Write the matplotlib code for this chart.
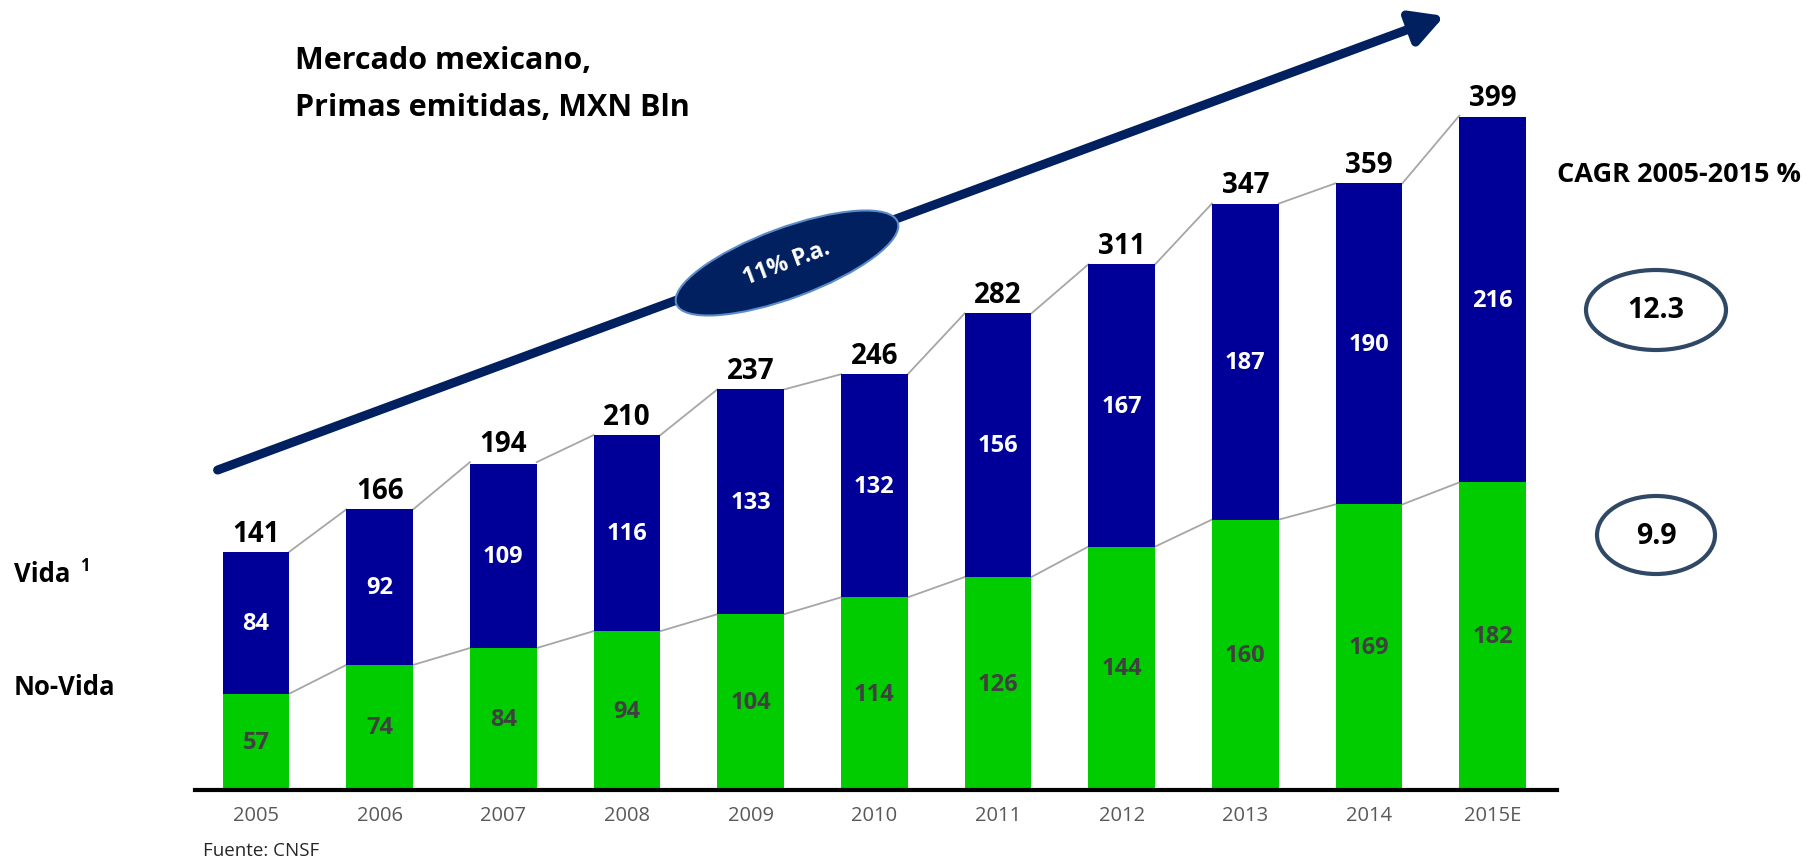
import numpy as np
import matplotlib
matplotlib.use("Agg")
import matplotlib.pyplot as plt
from matplotlib.patches import Ellipse, FancyArrowPatch

plt.rcParams['font.family'] = ['Open Sans', 'DejaVu Sans']

years = ["2005", "2006", "2007", "2008", "2009", "2010", "2011", "2012", "2013", "2014", "2015E"]
no_vida = [57, 74, 84, 94, 104, 114, 126, 144, 160, 169, 182]
vida = [84, 92, 109, 116, 133, 132, 156, 167, 187, 190, 216]
totals = [141, 166, 194, 210, 237, 246, 282, 311, 347, 359, 399]
cagr_vida = "12.3"
cagr_novida = "9.9"

blue = "#000099"
green = "#00CC00"
navy = "#002060"

W, H = 1814, 862
fig = plt.figure(figsize=(W / 100, H / 100), dpi=100)


def px(x, y):
    # pixel from top-left -> figure fraction
    return x / W, 1 - y / H


ax = fig.add_axes([195 / W, 71 / H, 1362 / W, 676 / H])
x = np.arange(len(years))
bw = 0.54
ax.bar(x, no_vida, bw, color=green, zorder=2)
ax.bar(x, vida, bw, bottom=no_vida, color=blue, zorder=2)

# connector lines between bars
for i in range(len(years) - 1):
    for top in (no_vida, totals):
        ax.plot([x[i] + bw / 2, x[i + 1] - bw / 2], [top[i], top[i + 1]],
                color="#A6A6A6", lw=1.3, zorder=1)

for i in range(len(years)):
    ax.text(x[i], no_vida[i] / 2, str(no_vida[i]), ha="center", va="center",
            fontsize=17, fontweight="bold", color="#404040")
    ax.text(x[i], no_vida[i] + vida[i] / 2, str(vida[i]), ha="center", va="center",
            fontsize=17, fontweight="bold", color="white")
    ax.annotate(str(totals[i]), (x[i], totals[i]), xytext=(0, 3), textcoords="offset points",
                ha="center", va="bottom", fontsize=20, fontweight="bold", color="black")

ax.set_xlim(-0.493, 10.52)
ax.set_ylim(0, 400)
for s in ("top", "right", "left"):
    ax.spines[s].set_visible(False)
ax.spines["bottom"].set_linewidth(3)
ax.spines["bottom"].set_color("black")
ax.set_yticks([])
ax.set_xticks(x)
ax.set_xticklabels(years, fontsize=14.5, color="#595959")
ax.tick_params(axis="x", length=0, pad=11)

# title and side labels
fig.text(*px(295, 61), "Mercado mexicano,", fontsize=22, fontweight="bold", va="center")
fig.text(*px(295, 108), "Primas emitidas, MXN Bln", fontsize=22, fontweight="bold", va="center")
fig.text(*px(14, 575), "Vida", fontsize=18.5, fontweight="bold", va="center")
fig.text(*px(80, 566), "1", fontsize=12, fontweight="bold", va="center")
fig.text(*px(14, 688), "No-Vida", fontsize=18.5, fontweight="bold", va="center")
fig.text(*px(1557, 175), "CAGR 2005-2015 %", fontsize=19.5, fontweight="bold", va="center")
fig.text(*px(203, 851), "Fuente: CNSF", fontsize=13.5, color="#262626", va="center")

# growth arrow
arr = FancyArrowPatch(px(215, 472), px(1447, 16), transform=fig.transFigure,
                      arrowstyle="-|>,head_length=12,head_width=6.5", lw=6.5,
                      color=navy, mutation_scale=1.6)
fig.patches.append(arr)

# ellipse on arrow (drawn in pixel space)
ang = np.degrees(np.arctan2(472 - 16, 1447 - 215))
e = Ellipse((787, H - 264), 236, 70, angle=ang, transform=None,
            facecolor=navy, edgecolor="#5B8BC9", lw=1.5)
fig.patches.append(e)
fig.text(*px(787, 264), "11% P.a.", fontsize=16.5, fontweight="bold", color="white",
         ha="center", va="center", rotation=ang, rotation_mode="anchor")

# CAGR ellipses
for cy, w, h, label in [(311, 140, 80, cagr_vida), (536, 118, 78, cagr_novida)]:
    el = Ellipse((1656, H - cy), w, h, transform=None, facecolor="white",
                 edgecolor="#2E4866", lw=3)
    fig.patches.append(el)
    fig.text(*px(1656, cy), label, fontsize=20.5, fontweight="bold", ha="center", va="center")

fig.savefig("out.png", dpi=100)
